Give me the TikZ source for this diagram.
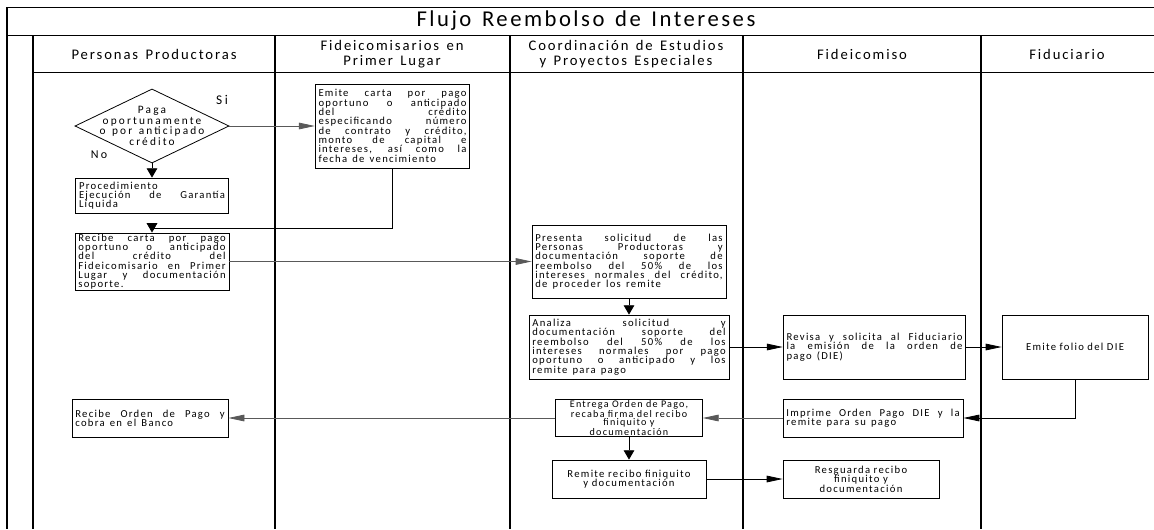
\documentclass[tikz,border=0pt]{standalone}
\usepackage{fontspec}
\setmainfont{Carlito}
\newfontfamily\boxfont{Carlito}[LetterSpace=12,WordSpace=1.4]
\newfontfamily\diafont{Carlito}[LetterSpace=19,WordSpace=1.4]
\newfontfamily\headfont{Carlito}[LetterSpace=13,WordSpace=1.4]
\newfontfamily\titlefont{Carlito}[LetterSpace=11,WordSpace=1.4]
\usetikzlibrary{arrows.meta,shapes.geometric}

\tikzset{
  lane/.style={line width=1.1pt},
  rowline/.style={line width=0.7pt},
  box/.style 2 args={draw, line width=0.6pt, text width=#1, minimum height=#2,
    inner xsep=2.5pt, inner ysep=0.5pt, align=justify,
    font=\boxfont\fontsize{8}{7}\selectfont},
  cbox/.style 2 args={box={#1}{#2}, align=center},
  decision/.style={draw, diamond, line width=0.6pt, aspect=2.08,
    inner xsep=-6pt, inner ysep=-3pt,
    minimum width=114pt, minimum height=54.75pt, align=center,
    font=\diafont\fontsize{8.5}{8}\selectfont},
  head/.style={align=center, font=\headfont\fontsize{11}{11.5}\selectfont},
  harrow/.style={-{Triangle[length=12pt,width=5pt]}, line width=0.6pt},
  varrow/.style={-{Triangle[length=7pt,width=8pt]}, line width=0.6pt},
}

\begin{document}
\begin{tikzpicture}[x=0.75pt,y=-0.75pt]
  \useasboundingbox (0,0) rectangle (1154,529);
  % frame and lanes
  \draw[rowline] (7,7) -- (1154,7);
  \draw[rowline] (7,35) -- (1154,35);
  \draw[rowline] (33,72) -- (1154,72);
  \draw[lane] (7,7) -- (7,529);
  \foreach \x in {33,275,510,743,981}
    \draw[lane] (\x,35) -- (\x,529);

  \node[font=\titlefont\fontsize{17}{18}\selectfont] (titulo) at (586,21) {Flujo Reembolso de Intereses};
  \node[head] (h1) at (154,54) {Personas Productoras};
  \node[head] (h2) at (392,54) {Fideicomisarios en\\Primer Lugar};
  \node[head] (h3) at (626,54) {Coordinación de Estudios\\y Proyectos Especiales};
  \node[head] (h4) at (862,54) {Fideicomiso};
  \node[head] (h5) at (1067,54) {Fiduciario};

  % steps
  \node[decision] (paga) at (152,126) {Paga\\oportunamente\\o por anticipado\\crédito};
  \node[font=\diafont\fontsize{10}{11}\selectfont] (si) at (222,100) {Si};
  \node[font=\diafont\fontsize{9}{10}\selectfont] (no) at (99,155) {No};
  \node[box={111pt}{63pt}] (emite) at (392.5,126) {Emite carta por pago\linebreak oportuno o anticipado\linebreak del crédito\linebreak especificando número\linebreak de contrato y crédito,\linebreak monto de capital e\linebreak intereses, así como la\linebreak fecha de vencimiento};
  \node[box={109.5pt}{26.25pt}] (proc) at (152,195.5) {Procedimiento\\Ejecución de Garantía\linebreak Líquida};
  \node[box={110.5pt}{40.5pt}] (recibe) at (152,261.5) {Recibe carta por pago\linebreak oportuno o anticipado\linebreak del crédito del\linebreak Fideicomisario en Primer\linebreak Lugar y documentación\linebreak soporte.};
  \node[box={140.5pt}{54.75pt}] (presenta) at (629,261.5) {Presenta solicitud de las\linebreak Personas Productoras y\linebreak documentación soporte de\linebreak reembolso del 50\% de los\linebreak intereses normales del crédito,\linebreak de proceder los remite};
  \node[box={145pt}{48pt}] (analiza) at (629,347) {Analiza solicitud y\linebreak documentación soporte del\linebreak reembolso del 50\% de los\linebreak intereses normales por pago\linebreak oportuno o anticipado y los\linebreak remite para pago};
  \node[box={132pt}{48pt}] (revisa) at (874.5,347) {Revisa y solicita al Fiduciario\linebreak la emisión de la orden de\linebreak pago (DIE)};
  \node[cbox={104.5pt}{48pt}] (folio) at (1075,347) {Emite folio del DIE};
  \node[box={130pt}{28.5pt}] (imprime) at (873,418) {Imprime Orden Pago DIE y la\linebreak remite para su pago};
  \node[cbox={105pt}{27.75pt}, font=\boxfont\fontsize{7.6}{6.5}\selectfont] (entrega) at (629,418) {Entrega Orden de Pago,\\recaba firma del recibo\\finiquito y\\documentación};
  \node[cbox={110.5pt}{28.5pt}] (remite) at (629,479) {Remite recibo finiquito\\y documentación};
  \node[cbox={112pt}{28.5pt}] (resguarda) at (861,479) {Resguarda recibo\\finiquito y\\documentación};
  \node[box={112pt}{28.5pt}] (cobra) at (150,418) {Recibe Orden de Pago y\linebreak cobra en el Banco};

  % connectors
  \coordinate (k1) at (152,228);
  \draw[harrow,black!65] (paga) -- (emite);
  \draw[varrow] (paga) -- (proc);
  \draw[varrow] (emite.south) |- (k1) -- (recibe.north);
  \draw[harrow,black!65] (recibe) -- (presenta);
  \draw[varrow] (presenta) -- (analiza);
  \draw[harrow] (analiza) -- (revisa);
  \draw[harrow] (revisa) -- (folio);
  \draw[harrow] (folio.south) |- (imprime.east);
  \draw[harrow,black!65] (imprime) -- (entrega);
  \draw[harrow,black!65] (entrega) -- (cobra);
  \draw[varrow] (entrega) -- (remite);
  \draw[harrow] (remite) -- (resguarda);
\end{tikzpicture}
\end{document}
